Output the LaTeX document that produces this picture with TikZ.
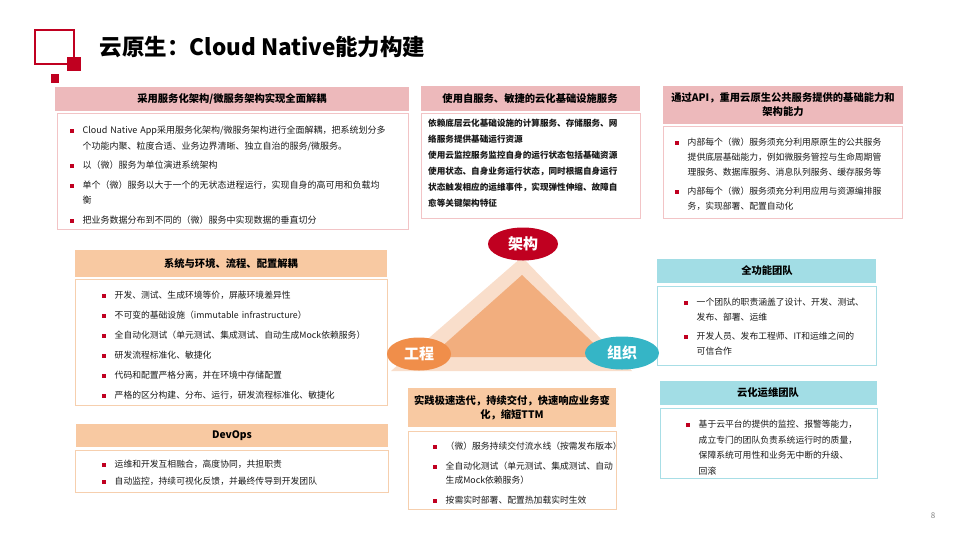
\documentclass[tikz,border=0pt]{standalone}
\usepackage{fontspec}
\setmainfont{Noto Sans CJK SC}
\usetikzlibrary{shapes.geometric}
\definecolor{bred}{HTML}{C00020}
\definecolor{pinkh}{HTML}{EDB9BB}
\definecolor{pinkb}{HTML}{F2C4C6}
\definecolor{peach}{HTML}{F8C9A2}
\definecolor{peachb}{HTML}{F6CFAE}
\definecolor{cyanh}{HTML}{A2DDE5}
\definecolor{cyanb}{HTML}{A8DEE6}
\definecolor{trilight}{HTML}{F9DECB}
\definecolor{tridark}{HTML}{F2AE7E}
\newlength\itgap \setlength\itgap{4pt}
\newcommand\itm[1]{\par\noindent\hangindent=12.5pt\hangafter=1\makebox[12.5pt][l]{\raisebox{0.5pt}{\color{bred}\rule{4pt}{4pt}}}#1\par\vspace{\itgap}}
\begin{document}
\begin{tikzpicture}[x=1pt,y=-1pt,
  hd/.style={font=\fontsize{10.3}{14}\selectfont\bfseries,align=center,text=black},
  bd/.style={anchor=north west,inner sep=0pt,align=left,font=\fontsize{9}{15.5}\selectfont,text=black!90},
  ell/.style={ellipse,minimum width=#1,minimum height=33pt,inner sep=0pt,text=white,font=\fontsize{15}{16}\selectfont\bfseries}]
\useasboundingbox (0,0) rectangle (959,539);
% logo
\draw[bred,line width=2pt] (35,30) rectangle (74,64);
\fill[bred] (67,57) rectangle (81,71);
\fill[bred] (51,74) rectangle (59,83);
\node[anchor=west,font=\fontsize{22.5}{24}\selectfont\bfseries] (title) at (96,47) {云原生：Cloud Native能力构建};
% box1
\fill[pinkh] (55,87) rectangle (409,111);
\node[hd] (h1) at (232,99) {采用服务化架构/微服务架构实现全面解耦};
\draw[pinkb,line width=1pt] (57,113) rectangle (408,229);
\node[bd,text width=340pt] (b1) at (70,118) {%
\itm{Cloud Native App采用服务化架构/微服务架构进行全面解耦，把系统划分多\newline 个功能内聚、粒度合适、业务边界清晰、独立自治的服务/微服务。}
\itm{以（微）服务为单位演进系统架构}
\itm{单个（微）服务以大于一个的无状态进程运行，实现自身的高可用和负载均\newline 衡}
\itm{把业务数据分布到不同的（微）服务中实现数据的垂直切分}};
% box2
\fill[pinkh] (421,86) rectangle (640,111);
\node[hd] (h2) at (530,99) {使用自服务、敏捷的云化基础设施服务};
\draw[pinkb,line width=1pt] (421,113) rectangle (640,218);
\node[bd,font=\fontsize{8.6}{16}\selectfont\bfseries,text width=215pt] (b2) at (428,119) {依赖底层云化基础设施的计算服务、存储服务、网\\络服务提供基础运行资源\\使用云监控服务监控自身的运行状态包括基础资源\\使用状态、自身业务运行状态，同时根据自身运行\\状态触发相应的运维事件，实现弹性伸缩、故障自\\愈等关键架构特征};
% box3
\fill[pinkh] (663,86) rectangle (903,124);
\node[hd] (h3) at (783,105) {通过API，重用云原生公共服务提供的基础能力和\\架构能力};
\draw[pinkb,line width=1pt] (663,126) rectangle (902,218);
\node[bd,text width=235pt,font=\fontsize{8.8}{15}\selectfont] (b3) at (675,130) {%
\itm{内部每个（微）服务须充分利用原原生的公共服务\newline 提供底层基础能力，例如微服务管控与生命周期管\newline 理服务、数据库服务、消息队列服务、缓存服务等}
\itm{内部每个（微）服务须充分利用应用与资源编排服\newline 务，实现部署、配置自动化}};
% box4
\fill[peach] (75,250) rectangle (387,277);
\node[hd] (h4) at (231,264) {系统与环境、流程、配置解耦};
\draw[peachb,line width=1pt] (75,279) rectangle (387,405);
\setlength\itgap{7pt}
\node[bd,text width=300pt,font=\fontsize{8.8}{13}\selectfont] (b4) at (102,285) {%
\itm{开发、测试、生成环境等价，屏蔽环境差异性}
\itm{不可变的基础设施（immutable infrastructure）}
\itm{全自动化测试（单元测试、集成测试、自动生成Mock依赖服务）}
\itm{研发流程标准化、敏捷化}
\itm{代码和配置严格分离，并在环境中存储配置}
\itm{严格的区分构建、分布、运行，研发流程标准化、敏捷化}};
% box5
\fill[peach] (76,424) rectangle (388,447);
\node[hd] (h5) at (232,436) {DevOps};
\draw[peachb,line width=1pt] (75,450) rectangle (388,492);
\setlength\itgap{4pt}
\node[bd,text width=300pt,font=\fontsize{8.8}{13}\selectfont] (b5) at (102,454) {%
\itm{运维和开发互相融合，高度协同，共担职责}
\itm{自动监控，持续可视化反馈，并最终传导到开发团队}};
% box6
\fill[peach] (408,388) rectangle (616,427);
\node[hd] (h6) at (512,408) {实践极速迭代，持续交付，快速响应业务变\\化，缩短TTM};
\draw[peachb,line width=1pt] (408,431) rectangle (616,509);
\setlength\itgap{6pt}
\node[bd,text width=205pt,font=\fontsize{8.8}{14}\selectfont] (b6) at (433,435) {%
\itm{（微）服务持续交付流水线（按需发布版本）}
\itm{全自动化测试（单元测试、集成测试、自动\newline 生成Mock依赖服务）}
\itm{按需实时部署、配置热加载实时生效}};
% box7
\fill[cyanh] (657,259) rectangle (876,283);
\node[hd] (h7) at (767,271) {全功能团队};
\draw[cyanb,line width=1pt] (657,286) rectangle (876,365);
\setlength\itgap{5pt}
\node[bd,text width=210pt,font=\fontsize{8.8}{14.5}\selectfont] (b7) at (684,291) {%
\itm{一个团队的职责涵盖了设计、开发、测试、\newline 发布、部署、运维}
\itm{开发人员、发布工程师、IT和运维之间的\newline 可信合作}};
% box8
\fill[cyanh] (660,381) rectangle (877,405);
\node[hd] (h8) at (768,393) {云化运维团队};
\draw[cyanb,line width=1pt] (660,408) rectangle (877,478);
\node[bd,text width=210pt,font=\fontsize{8.8}{15.5}\selectfont] (b8) at (686,412) {%
\itm{基于云平台的提供的监控、报警等能力，\newline 成立专门的团队负责系统运行时的质量，\newline 保障系统可用性和业务无中断的升级、\newline 回滚}};
% triangle
\fill[trilight] (522,257) -- (632,371) -- (391,371) -- cycle;
\fill[tridark] (522,275) -- (608,357) -- (430,357) -- cycle;
\node[ell=70pt,fill=bred] (jg) at (523,244) {架构};
\node[ell=64pt,fill={rgb,255:red,240;green,142;blue,74}] (gc) at (419,354) {工程};
\node[ell=74pt,fill={rgb,255:red,53;green,181;blue,198}] (zz) at (622,353) {组织};
\node[font=\fontsize{8}{10}\selectfont,text=black!50] (pg) at (933,516) {8};
\end{tikzpicture}
\end{document}
